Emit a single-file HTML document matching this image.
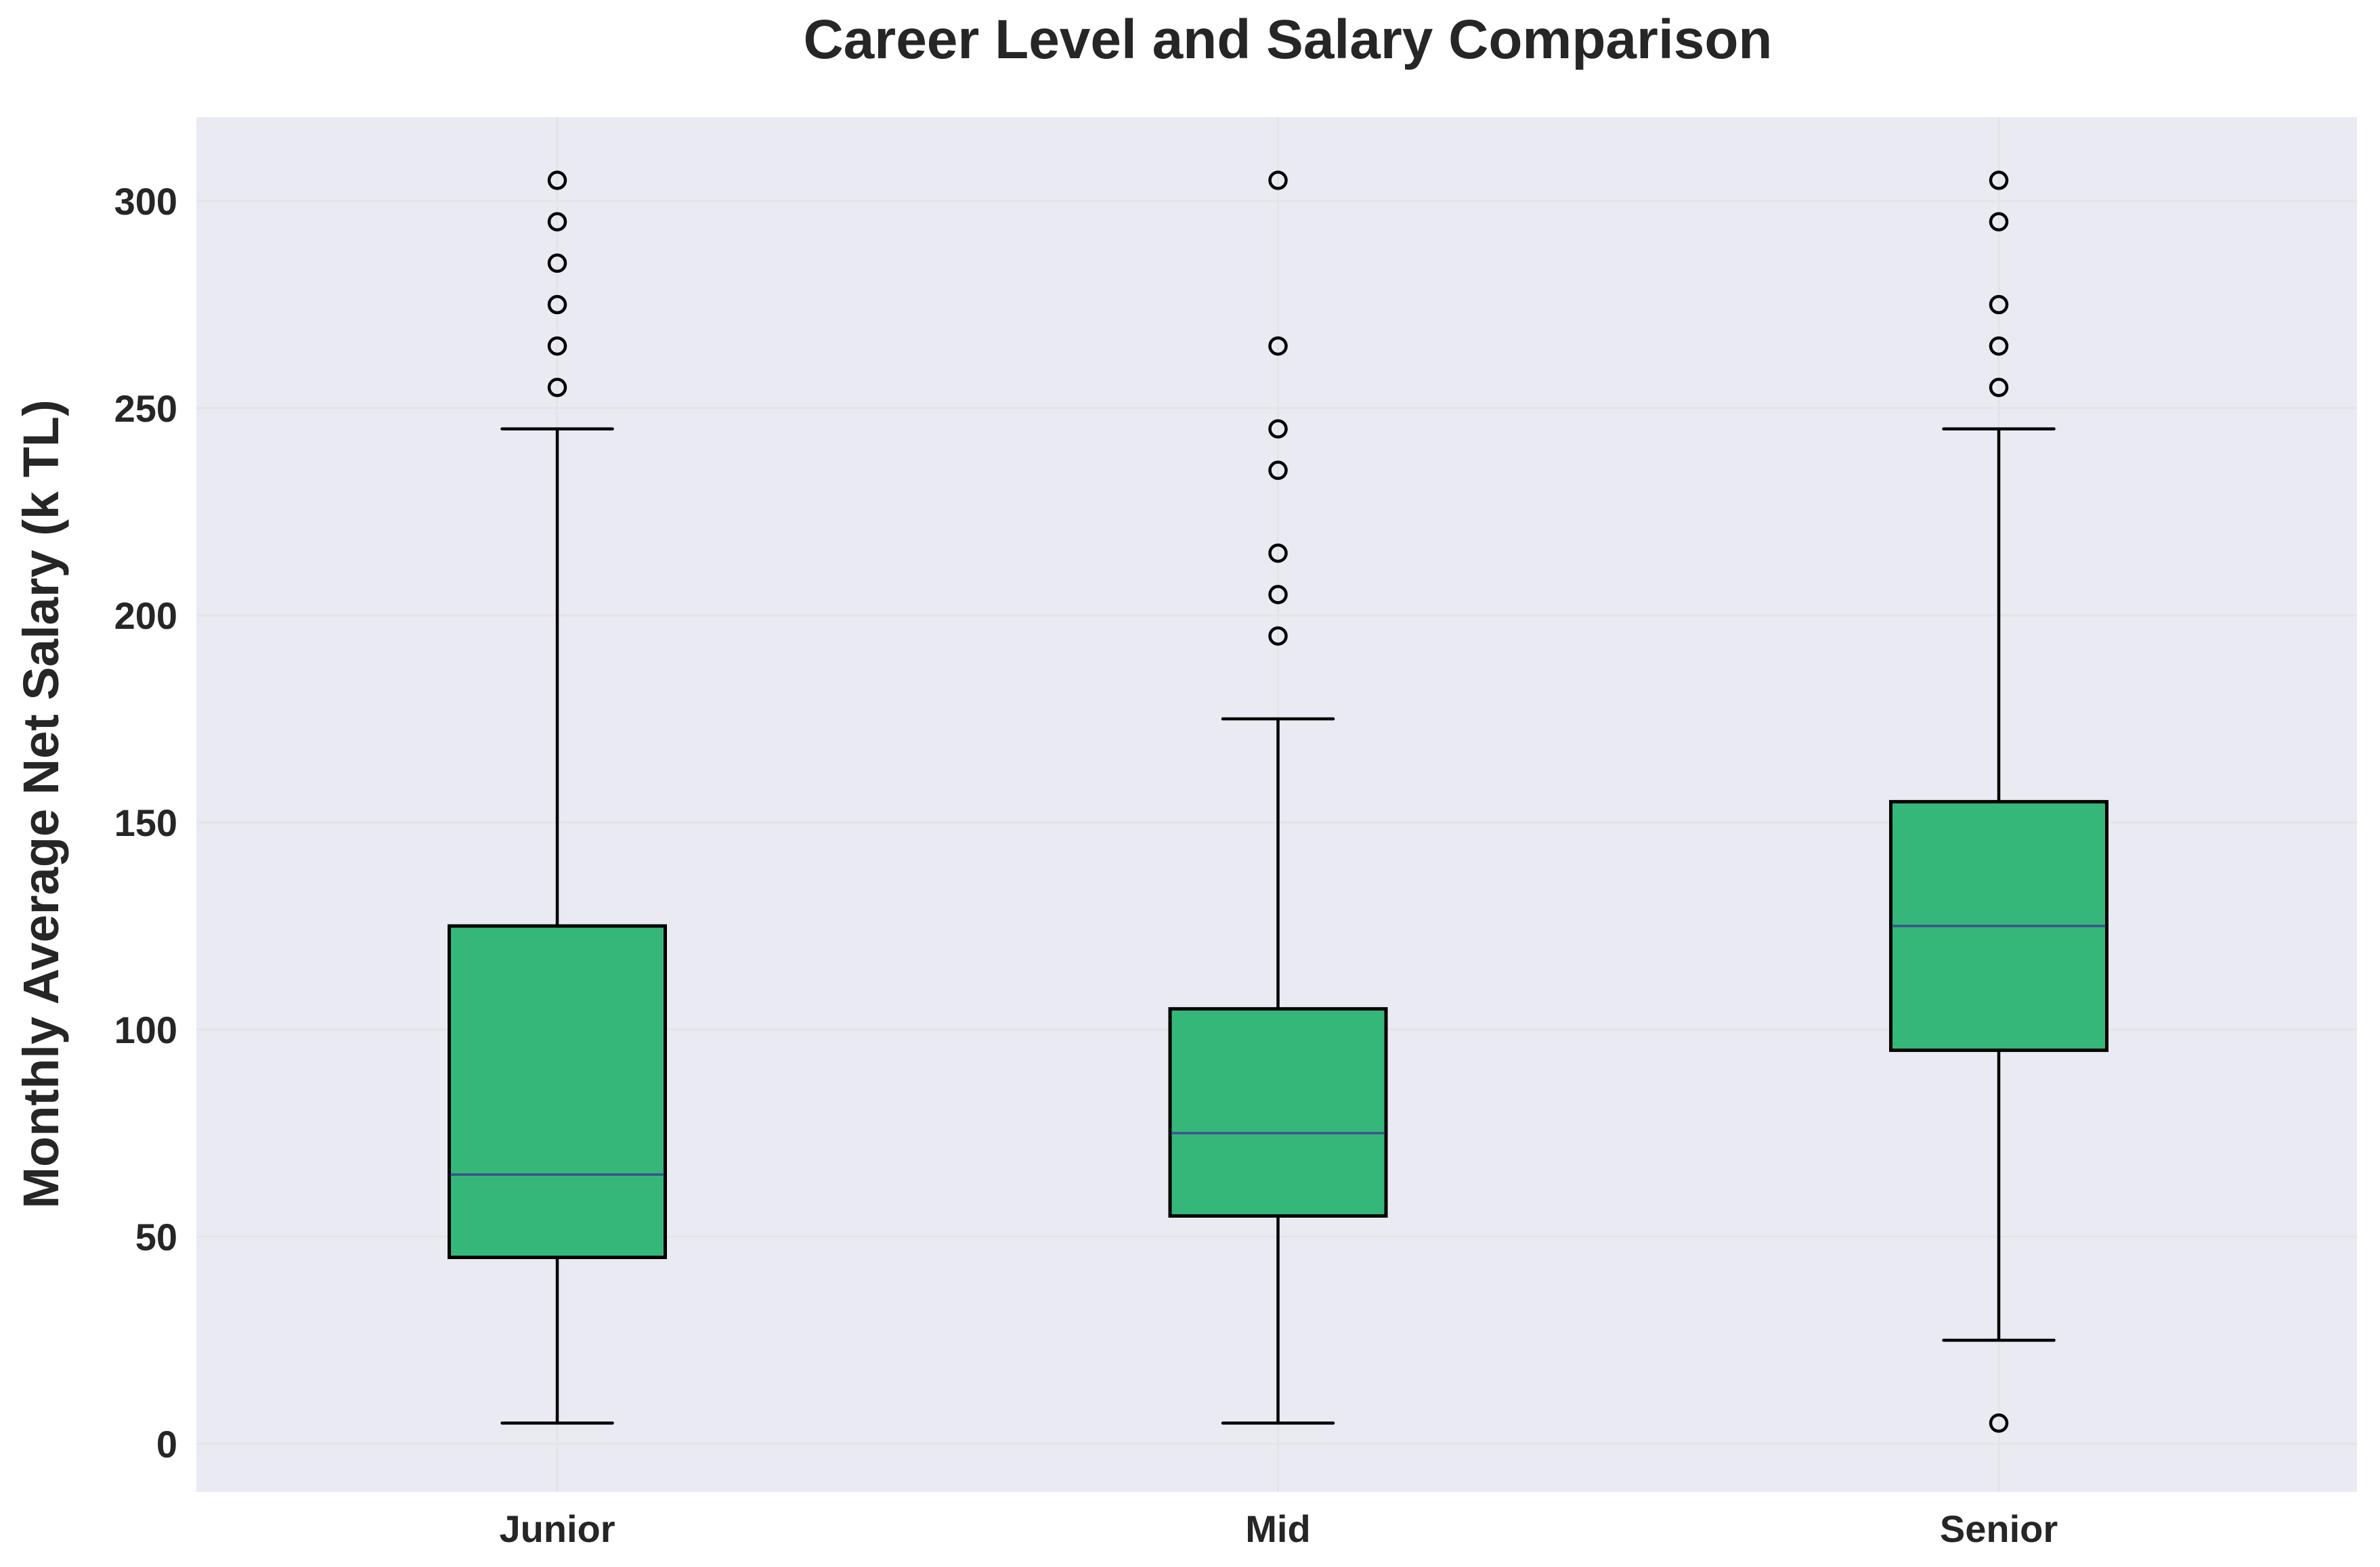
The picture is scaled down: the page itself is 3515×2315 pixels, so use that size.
<!DOCTYPE html>
<html><head><meta charset="utf-8"><style>
html,body{margin:0;padding:0;background:#fff;}
svg{display:block;font-family:"Liberation Sans",Arial,sans-serif;}
</style></head><body>
<svg id="chart" width="3515" height="2315" viewBox="0 0 3515 2315" xmlns="http://www.w3.org/2000/svg">
<rect x="0" y="0" width="3515" height="2315" fill="#ffffff"/>
<rect x="290" y="173" width="3191" height="2031" fill="#EAEAF2"/>
<g id="grid"></g>
<g id="boxes"></g>
<g id="yticks"></g>
<g id="xticks"></g>
<text x="1902" y="86" text-anchor="middle" font-size="82" font-weight="bold" fill="#262626">Career Level and Salary Comparison</text>
<text transform="translate(86,1188) rotate(-90)" text-anchor="middle" font-size="74" font-weight="bold" fill="#262626">Monthly Average Net Salary (k TL)</text>
</svg>
<script>
const categories = ["Junior", "Mid", "Senior"];
const whiskerLow = [5, 5, 25];
const q1 = [45, 55, 95];
const medians = [65, 75, 125];
const q3 = [125, 105, 155];
const whiskerHigh = [245, 175, 245];
const outliers = [
  [255, 265, 275, 285, 295, 305],
  [195, 205, 215, 235, 245, 265, 305],
  [5, 255, 265, 275, 295, 305]
];
const yTicks = [0, 50, 100, 150, 200, 250, 300];

const NS = "http://www.w3.org/2000/svg";
const plotL = 290, plotR = 3481;
function yScale(v){ return 2133 - v * 6.12; }
function xScale(i){ return 823 + i * 1064.5; }
function mk(tag, attrs, parent){
  const e = document.createElementNS(NS, tag);
  for (const k in attrs) e.setAttribute(k, attrs[k]);
  parent.appendChild(e);
  return e;
}
const grid = document.getElementById('grid');
const boxes = document.getElementById('boxes');
const yt = document.getElementById('yticks');
const xt = document.getElementById('xticks');

yTicks.forEach(v => {
  const l = mk('line', {x1: plotL, x2: plotR, y1: yScale(v), y2: yScale(v), stroke: '#e3e3e8', 'stroke-width': 3}, grid);
  
  
  const t = mk('text', {x: 262, y: yScale(v) + 20, 'text-anchor': 'end', 'font-size': 56, 'font-weight': 'bold', fill: '#262626'}, yt);
  t.textContent = v;
  
  
});
categories.forEach((c, i) => {
  const gl = mk('line', {x1: xScale(i), x2: xScale(i), y1: 173, y2: 2204, stroke: '#e3e3e8', 'stroke-width': 3}, grid);
  
  
});

const bw = 319, cw = 163;
categories.forEach((c, i) => {
  const cx = xScale(i);
  const g = mk('g', {}, boxes);
  
  
  const w1 = mk('line', {x1: cx, x2: cx, y1: yScale(q3[i]), y2: yScale(whiskerHigh[i]), stroke: '#000', 'stroke-width': 4.5}, g);
  
  
  const w2 = mk('line', {x1: cx, x2: cx, y1: yScale(q1[i]), y2: yScale(whiskerLow[i]), stroke: '#000', 'stroke-width': 4.5}, g);
  
  
  const c1 = mk('line', {x1: cx - cw/2, x2: cx + cw/2, y1: yScale(whiskerHigh[i]), y2: yScale(whiskerHigh[i]), stroke: '#000', 'stroke-width': 4.5, 'stroke-linecap': 'round'}, g);
  
  
  const c2 = mk('line', {x1: cx - cw/2, x2: cx + cw/2, y1: yScale(whiskerLow[i]), y2: yScale(whiskerLow[i]), stroke: '#000', 'stroke-width': 4.5, 'stroke-linecap': 'round'}, g);
  
  
  const r = mk('rect', {x: cx - bw/2, y: yScale(q3[i]), width: bw, height: yScale(q1[i]) - yScale(q3[i]), fill: '#36B77A', stroke: '#000', 'stroke-width': 5}, g);
  
  
  const m = mk('line', {x1: cx - bw/2 + 2, x2: cx + bw/2 - 2, y1: yScale(medians[i]), y2: yScale(medians[i]), stroke: '#3b528b', 'stroke-width': 3.5}, g);
  
  
  outliers[i].forEach(v => {
    const o = mk('circle', {cx: cx, cy: yScale(v), r: 12, fill: 'none', stroke: '#000', 'stroke-width': 4.5}, g);
    
    
  });
  const t = mk('text', {x: cx, y: 2278, 'text-anchor': 'middle', 'font-size': 56, 'font-weight': 'bold', fill: '#262626'}, xt);
  t.textContent = c;
  
  
});
</script>
</body></html>
